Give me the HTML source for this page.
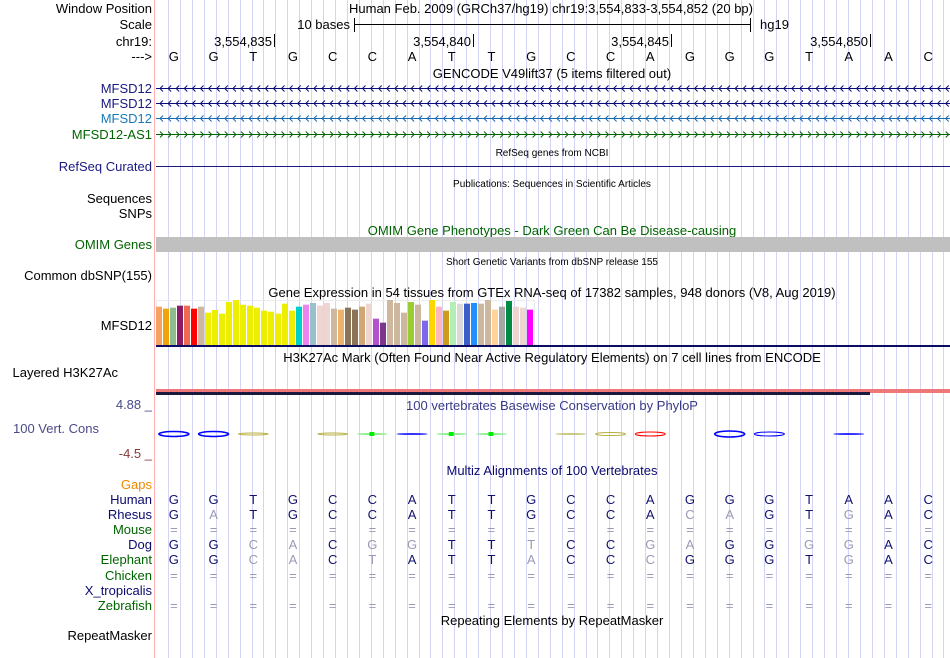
<!DOCTYPE html>
<html><head><meta charset="utf-8">
<style>
body{margin:0;background:#fff;}
svg{display:block;font-family:"Liberation Sans",sans-serif;}
</style></head>
<body>
<svg id="c" width="950" height="658" viewBox="0 0 950 658">
<g id="grid"></g>
<line x1="154.5" y1="0" x2="154.5" y2="658" stroke="#ffb0b0" stroke-width="1"/>

<g font-size="13" fill="#000" text-anchor="end">
<text x="152" y="13">Window Position</text>
<text x="152" y="29">Scale</text>
<text x="152" y="46">chr19:</text>
<text x="152" y="61">---&gt;</text>
<text x="152" y="93" fill="#1a1a80">MFSD12</text>
<text x="152" y="108" fill="#1a1a80">MFSD12</text>
<text x="152" y="123" fill="#1a7ab8">MFSD12</text>
<text x="152" y="139" fill="#006400">MFSD12-AS1</text>
<text x="152" y="171" fill="#1a1a80">RefSeq Curated</text>
<text x="152" y="203">Sequences</text>
<text x="152" y="218">SNPs</text>
<text x="152" y="249" fill="#006400">OMIM Genes</text>
<text x="152" y="280">Common dbSNP(155)</text>
<text x="152" y="330">MFSD12</text>
<text x="118" y="377">Layered H3K27Ac</text>
<text x="152" y="409" fill="#4a4a8a">4.88 _</text>
<text x="99" y="433" fill="#4a4a8a">100 Vert. Cons</text>
<text x="152" y="458" fill="#8b3a3a">-4.5 _</text>
<text x="152" y="489" fill="#ee8800">Gaps</text>
<text x="152" y="504" fill="#0a0a70">Human</text>
<text x="152" y="519" fill="#0a0a70">Rhesus</text>
<text x="152" y="534" fill="#006400">Mouse</text>
<text x="152" y="549" fill="#0a0a70">Dog</text>
<text x="152" y="564" fill="#006400">Elephant</text>
<text x="152" y="580" fill="#006400">Chicken</text>
<text x="152" y="595" fill="#0a0a70">X_tropicalis</text>
<text x="152" y="610" fill="#006400">Zebrafish</text>
<text x="152" y="640">RepeatMasker</text>
</g>

<text x="551" y="13" font-size="13" text-anchor="middle">Human Feb. 2009 (GRCh37/hg19)   chr19:3,554,833-3,554,852 (20 bp)</text>
<g>
<text x="350" y="29" font-size="13" text-anchor="end">10 bases</text>
<line x1="354" y1="24.5" x2="750" y2="24.5" stroke="#000"/>
<line x1="354.5" y1="18" x2="354.5" y2="32" stroke="#000"/>
<line x1="750.5" y1="18" x2="750.5" y2="32" stroke="#000"/>
<text x="760" y="29" font-size="13">hg19</text>
</g>
<g id="ticks" font-size="13"></g>
<g id="bases" font-size="13" text-anchor="middle"></g>

<g font-size="13" text-anchor="middle">
<text x="552" y="78">GENCODE V49lift37 (5 items filtered out)</text>
<text x="552" y="156" font-size="10">RefSeq genes from NCBI</text>
<text x="552" y="187" font-size="10">Publications: Sequences in Scientific Articles</text>
<text x="552" y="235" fill="#006400">OMIM Gene Phenotypes - Dark Green Can Be Disease-causing</text>
<text x="552" y="265" font-size="10">Short Genetic Variants from dbSNP release 155</text>
<text x="552" y="297">Gene Expression in 54 tissues from GTEx RNA-seq of 17382 samples, 948 donors (V8, Aug 2019)</text>
<text x="552" y="362">H3K27Ac Mark (Often Found Near Active Regulatory Elements) on 7 cell lines from ENCODE</text>
<text x="552" y="410" fill="#3a3a8a">100 vertebrates Basewise Conservation by PhyloP</text>
<text x="552" y="475" fill="#0a0a70">Multiz Alignments of 100 Vertebrates</text>
<text x="552" y="625">Repeating Elements by RepeatMasker</text>
</g>

<g id="genes">
<line x1="156" y1="166.5" x2="950" y2="166.5" stroke="#1a1a80"/>
<rect x="156" y="237" width="794" height="15" fill="#c0c0c0"/>
</g>

<g id="gtex">
<rect x="156.5" y="300.5" width="378" height="45" fill="none" stroke="#ececec"/>
</g>
<rect x="156" y="345" width="794" height="2" fill="#0c0c60"/>

<g>
<rect x="156" y="389" width="794" height="3" fill="#f07878"/>
<rect x="156" y="392" width="714" height="3" fill="#1a1a40"/>
<rect x="870" y="392" width="80" height="1" fill="#f07878"/>
</g>

<g id="cons"></g>
<g id="multiz" font-size="13" text-anchor="middle"></g>
</svg>
<script>
const NS='http://www.w3.org/2000/svg';
function mk(tag,attrs,parent){const e=document.createElementNS(NS,tag);for(const k in attrs)e.setAttribute(k,attrs[k]);parent.appendChild(e);return e;}
const refBases=['G','G','T','G','C','C','A','T','T','G','C','C','A','G','G','G','T','A','A','C'];
const rhesus=['G','A','T','G','C','C','A','T','T','G','C','C','A','C','A','G','T','G','A','C'];
const dog=['G','G','C','A','C','G','G','T','T','T','C','C','G','A','G','G','G','G','A','C'];
const elephant=['G','G','C','A','C','T','A','T','T','A','C','C','C','G','G','G','T','G','A','C'];
const tickPositions=[3554835,3554840,3554845,3554850];
const gtexValues=[115,109,112,118,118,109,115,97,105,94,129,135,121,118,112,103,100,94,124,103,115,121,126,118,126,109,106,112,106,115,124,79,67,135,126,97,129,121,73,135,115,103,129,124,124,126,124,135,106,115,132,115,112,106];
const gtexColors=['#f4a460','#f0a30a','#8fbc8f','#8b1c62','#ee6a50','#ff0000','#cdb79e','#eeee00','#eeee00','#eeee00','#eeee00','#eeee00','#eeee00','#eeee00','#eeee00','#eeee00','#eeee00','#eeee00','#eeee00','#eeee00','#00cdcd','#ee82ee','#9ac0cd','#eed5d2','#eed5d2','#cdb79e','#eeb26a','#8b7355','#8b7355','#cda774','#eed5d2','#b452cd','#7a378b','#cdb79e','#cdb79e','#cdb79e','#9acd32','#cdb79e','#7b68ee','#ffd700','#ffb6c1','#cd9b1d','#b4eeb4','#d9d9d9','#3a5fcd','#1e90ff','#cdb79e','#cdb79e','#ffd39b','#a6a6a6','#008b45','#eed5d2','#eed5d2','#ff00ff'];
const consIndex=[0,1,2,4,5,6,7,8,10,11,12,14,15,17];
const consColor=['#0000ff','#0000ff','#b8b040','#b8b040','#90ee90','#3030ff','#90ee90','#90ee90','#c8c880','#b8b040','#ff0000','#0000ff','#0000ff','#3030ff'];
const consHeight=[2.5,2.5,1,1,0.5,0.5,0.5,0.5,0.5,1.5,2,3,2,0.5];

const startPos=3554833, x0=156, x1=950, nb=20, bw=(x1-x0)/nb;
function xCenter(i){return x0+bw*(i+0.45);}
function xPos(p){return x0+bw*(p-startPos+1);}

const grid=document.getElementById('grid');
for(let x=168;x<950;x+=11.93){
 const l=mk('line',{x1:Math.round(x)+0.5,y1:0,x2:Math.round(x)+0.5,y2:658,stroke:'#d4d4f4'},grid);
 
 
}

const genes=document.getElementById('genes');
const geneRows=[[88,'#0c0c78',-1,'gene-mfsd12-1'],[103,'#0c0c78',-1,'gene-mfsd12-2'],[118,'#1a6ab0',-1,'gene-mfsd12-3'],[134,'#006400',1,'gene-mfsd12-as1']];
geneRows.forEach(g=>{
 const y=g[0]+0.5;
 let d='M156,'+y+' L950,'+y;
 for(let x=160;x<948;x+=8.1){
  if(g[2]<0) d+=' M'+(x+3)+','+(y-3)+' L'+x+','+y+' L'+(x+3)+','+(y+3);
  else d+=' M'+x+','+(y-3)+' L'+(x+3)+','+y+' L'+x+','+(y+3);
 }
 const p=mk('path',{d:d,fill:'none',stroke:g[1],'stroke-width':1},genes);
 
 
});

const ticks=document.getElementById('ticks');
tickPositions.forEach(p=>{
 const x=Math.round(xPos(p))-1;
 const t=mk('text',{x:x-2,y:46,'text-anchor':'end'},ticks);t.textContent=p.toLocaleString('en-US');
 
 
 const l=mk('line',{x1:x+0.5,y1:34,x2:x+0.5,y2:47,stroke:'#000'},ticks);
 
 
});

const bases=document.getElementById('bases');
refBases.forEach((b,i)=>{
 const t=mk('text',{x:xCenter(i),y:61},bases);t.textContent=b;
 
 
});

const gtex=document.getElementById('gtex');
const gBase=345, gScale=1/3, gW=7;
gtexValues.forEach((v,i)=>{
 const h=v*gScale;
 const r=mk('rect',{x:156+i*gW,y:gBase-h,width:gW-1,height:h,fill:gtexColors[i]},gtex);
 
 
});

const cons=document.getElementById('cons');
consIndex.forEach((idx,k)=>{
 const cx=xCenter(idx);
 const e=mk('ellipse',{cx:cx,cy:434,rx:15,ry:consHeight[k],fill:'none',stroke:consColor[k],'stroke-width':consHeight[k]>2?1.6:1},cons);
 
 
 if(consColor[k]==='#90ee90'){
  const s=mk('rect',{x:cx-3,y:432,width:5,height:4,fill:'#00ee00'},cons);
  
  
 }
});

const multiz=document.getElementById('multiz');
function row(arr,y,name,ref){
 arr.forEach((b,i)=>{
  const match=!ref||b===refBases[i];
  const t=mk('text',{x:xCenter(i),y:y,fill:match?'#12126e':'#9a9ab8'},multiz);t.textContent=b;
  
  
 });
}
function eqRow(y,name){
 for(let i=0;i<nb;i++){const t=mk('text',{x:xCenter(i),y:y,fill:'#9a9ab8'},multiz);t.textContent='=';
  
  }
}
row(refBases,504,'human',false);
row(rhesus,519,'rhesus',true);
eqRow(534,'mouse');
row(dog,549,'dog',true);
row(elephant,564,'elephant',true);
eqRow(580,'chicken');
eqRow(610,'zebrafish');
</script>
</body></html>
